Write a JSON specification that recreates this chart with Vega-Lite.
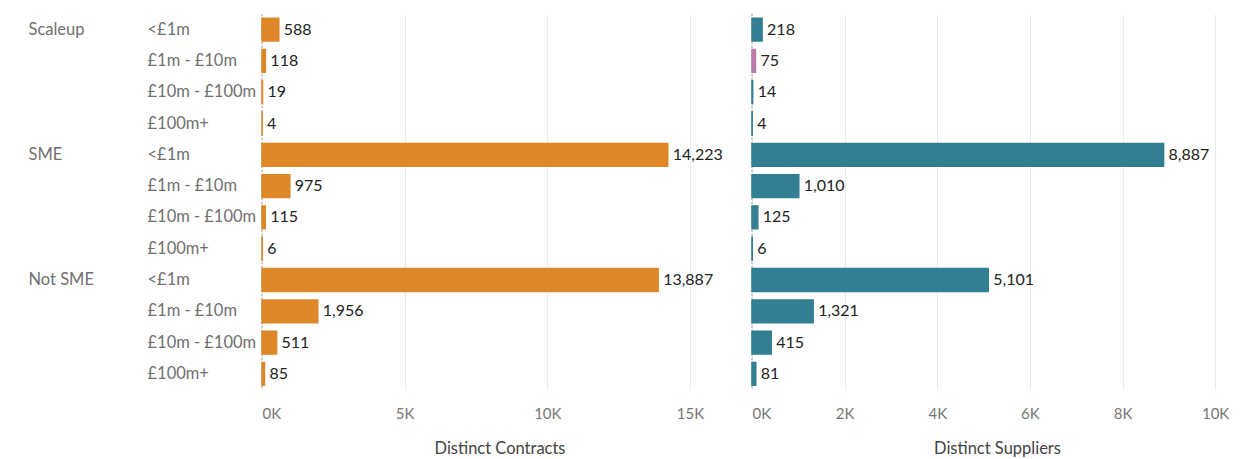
{
  "$schema": "https://vega.github.io/schema/vega-lite/v6.json",
  "padding": {"left": 28, "top": 13, "right": 5, "bottom": 5},
  "background": "white",
  "config": {
    "font": "Lato",
    "view": {"stroke": null},
    "axis": {
      "labelFont": "Lato",
      "labelFontSize": 15,
      "labelColor": "#777777",
      "titleFont": "Lato",
      "titleFontSize": 16.5,
      "titleColor": "#444444",
      "titleFontWeight": "normal",
      "gridColor": "#ebebeb",
      "domain": false,
      "ticks": false
    }
  },
  "datasets": {
    "rows": [
      {"key": "Scaleup|<£1m", "group": "Scaleup", "size": "<£1m", "contracts": 588, "suppliers": 218, "flag": "normal"},
      {"key": "Scaleup|£1m - £10m", "group": "Scaleup", "size": "£1m - £10m", "contracts": 118, "suppliers": 75, "flag": "highlight"},
      {"key": "Scaleup|£10m - £100m", "group": "Scaleup", "size": "£10m - £100m", "contracts": 19, "suppliers": 14, "flag": "normal"},
      {"key": "Scaleup|£100m+", "group": "Scaleup", "size": "£100m+", "contracts": 4, "suppliers": 4, "flag": "normal"},
      {"key": "SME|<£1m", "group": "SME", "size": "<£1m", "contracts": 14223, "suppliers": 8887, "flag": "normal"},
      {"key": "SME|£1m - £10m", "group": "SME", "size": "£1m - £10m", "contracts": 975, "suppliers": 1010, "flag": "normal"},
      {"key": "SME|£10m - £100m", "group": "SME", "size": "£10m - £100m", "contracts": 115, "suppliers": 125, "flag": "normal"},
      {"key": "SME|£100m+", "group": "SME", "size": "£100m+", "contracts": 6, "suppliers": 6, "flag": "normal"},
      {"key": "Not SME|<£1m", "group": "Not SME", "size": "<£1m", "contracts": 13887, "suppliers": 5101, "flag": "normal"},
      {"key": "Not SME|£1m - £10m", "group": "Not SME", "size": "£1m - £10m", "contracts": 1956, "suppliers": 1321, "flag": "normal"},
      {"key": "Not SME|£10m - £100m", "group": "Not SME", "size": "£10m - £100m", "contracts": 511, "suppliers": 415, "flag": "normal"},
      {"key": "Not SME|£100m+", "group": "Not SME", "size": "£100m+", "contracts": 85, "suppliers": 81, "flag": "normal"}
    ]
  },
  "data": {"name": "rows"},
  "spacing": 14,
  "hconcat": [
    {
      "width": 475,
      "height": 375.6,
      "layer": [
        {
          "layer": [
            {
              "mark": {"type": "rule", "color": "#cccccc", "strokeDash": [2, 2]},
              "encoding": {"x": {"datum": 0, "type": "quantitative"}}
            },
            {
              "mark": {"type": "bar", "color": "#DE8728", "stroke": "#DE8728", "strokeWidth": 1.5},
              "encoding": {
                "y": {
                  "field": "key", "type": "nominal",
                  "scale": {
                    "domain": ["Scaleup|<£1m", "Scaleup|£1m - £10m", "Scaleup|£10m - £100m", "Scaleup|£100m+", "SME|<£1m", "SME|£1m - £10m", "SME|£10m - £100m", "SME|£100m+", "Not SME|<£1m", "Not SME|£1m - £10m", "Not SME|£10m - £100m", "Not SME|£100m+"],
                    "paddingInner": 0.27, "paddingOuter": 0.135
                  },
                  "axis": {
                    "orient": "left",
                    "title": null,
                    "labelExpr": "split(datum.value, '|')[1]",
                    "labelAlign": "left",
                    "labelPadding": 115,
                    "labelFontSize": 16.5,
                    "labelColor": "#707070",
                    "grid": false
                  }
                },
                "x": {
                  "field": "contracts", "type": "quantitative",
                  "scale": {"domain": [0, 16650], "nice": false},
                  "axis": {
                    "values": [0, 5000, 10000, 15000],
                    "labelExpr": "datum.value / 1000 + 'K'",
                    "title": "Distinct Contracts",
                    "labelPadding": 17,
                    "titlePadding": 19,
                    "grid": true
                  }
                }
              }
            },
            {
              "mark": {"type": "text", "align": "left", "baseline": "middle", "dx": 5, "fontSize": 16, "color": "#222222"},
              "encoding": {
                "y": {"field": "key", "type": "nominal"},
                "x": {"field": "contracts", "type": "quantitative"},
                "text": {"field": "contracts", "type": "quantitative", "format": ","}
              }
            }
          ]
        },
        {
          "mark": {"type": "bar", "opacity": 0},
          "encoding": {
            "y": {
              "field": "key", "type": "nominal",
              "scale": {
                "domain": ["Scaleup|<£1m", "Scaleup|£1m - £10m", "Scaleup|£10m - £100m", "Scaleup|£100m+", "SME|<£1m", "SME|£1m - £10m", "SME|£10m - £100m", "SME|£100m+", "Not SME|<£1m", "Not SME|£1m - £10m", "Not SME|£10m - £100m", "Not SME|£100m+"],
                "paddingInner": 0.27, "paddingOuter": 0.135
              },
              "axis": {
                "orient": "left",
                "title": null,
                "labelExpr": "split(datum.value, '|')[1] == '<£1m' ? split(datum.value, '|')[0] : ''",
                "labelAlign": "left",
                "labelPadding": 234,
                "labelFontSize": 16.5,
                "labelColor": "#707070",
                "grid": false
              }
            },
            "x": {"field": "contracts", "type": "quantitative"}
          }
        }
      ],
      "resolve": {"scale": {"y": "independent"}, "axis": {"y": "independent"}}
    },
    {
      "width": 490,
      "height": 375.6,
      "layer": [
        {
          "mark": {"type": "rule", "color": "#cccccc", "strokeDash": [2, 2]},
          "encoding": {"x": {"datum": 0, "type": "quantitative"}}
        },
        {
          "mark": {"type": "bar", "strokeWidth": 1.5},
          "encoding": {
            "y": {
              "field": "key", "type": "nominal",
              "scale": {
                "domain": ["Scaleup|<£1m", "Scaleup|£1m - £10m", "Scaleup|£10m - £100m", "Scaleup|£100m+", "SME|<£1m", "SME|£1m - £10m", "SME|£10m - £100m", "SME|£100m+", "Not SME|<£1m", "Not SME|£1m - £10m", "Not SME|£10m - £100m", "Not SME|£100m+"],
                "paddingInner": 0.27, "paddingOuter": 0.135
              },
              "axis": null
            },
            "x": {
              "field": "suppliers", "type": "quantitative",
              "scale": {"domain": [0, 10580], "nice": false},
              "axis": {
                "values": [0, 2000, 4000, 6000, 8000, 10000],
                "labelExpr": "datum.value / 1000 + 'K'",
                "title": "Distinct Suppliers",
                "labelPadding": 17,
                "titlePadding": 19,
                "grid": true
              }
            },
            "color": {
              "field": "flag", "type": "nominal",
              "scale": {"domain": ["normal", "highlight"], "range": ["#327F93", "#B97BAB"]},
              "legend": null
            },
            "stroke": {
              "field": "flag", "type": "nominal",
              "scale": {"domain": ["normal", "highlight"], "range": ["#327F93", "#B97BAB"]},
              "legend": null
            }
          }
        },
        {
          "mark": {"type": "text", "align": "left", "baseline": "middle", "dx": 5, "fontSize": 16, "color": "#222222"},
          "encoding": {
            "y": {"field": "key", "type": "nominal"},
            "x": {"field": "suppliers", "type": "quantitative"},
            "text": {"field": "suppliers", "type": "quantitative", "format": ","}
          }
        }
      ]
    }
  ]
}
